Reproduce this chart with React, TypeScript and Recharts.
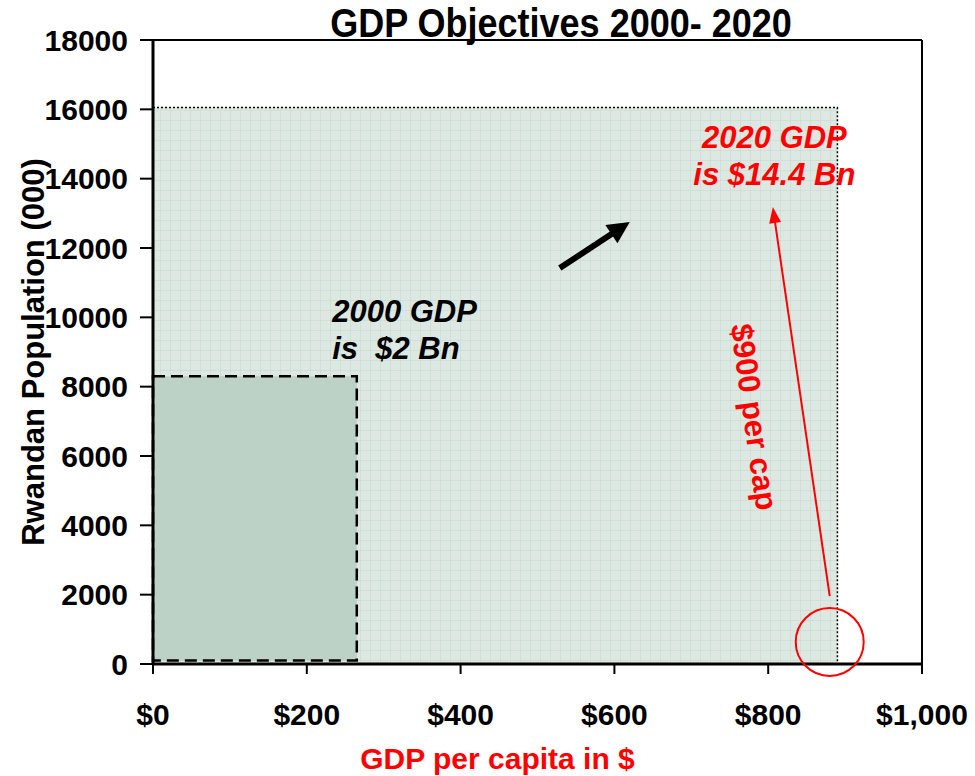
import React from 'react';
import {
  ScatterChart,
  Scatter,
  XAxis,
  YAxis,
  ReferenceArea,
  ReferenceLine,
  ReferenceDot,
} from 'recharts';

// GDP per capita ($) x population (000): the area is total GDP
const xTicks = [0, 200, 400, 600, 800, 1000];
const yTicks = [0, 2000, 4000, 6000, 8000, 10000, 12000, 14000, 16000, 18000];

// 2000 and 2020 rectangles: [perCapita, population]
const gdp2000 = { x1: 0, x2: 265, y1: 100, y2: 8300 };
const gdp2020 = { x1: 0, x2: 890, y1: 0, y2: 16050 };

// corner points of the two rectangles (the only series)
const corners = [
  { x: gdp2000.x2, y: gdp2000.y2 },
  { x: gdp2020.x2, y: gdp2020.y2 },
];

// annotation arrows, in data units
const growthArrow = [{ x: 529, y: 11420 }, { x: 620, y: 12750 }];
const perCapArrow = [{ x: 880, y: 1960 }, { x: 806, y: 13180 }];
const perCapCircle = { x: 880, y: 635 };

const notes = [
  { x: 233, y: 9860, lines: ['2000 GDP', 'is  $2 Bn'], color: '#000', anchor: 'start', angle: 0 },
  { x: 808, y: 14880, lines: ['2020 GDP', 'is $14.4 Bn'], color: '#ff0000', anchor: 'middle', angle: 0 },
  { x: 782, y: 7124, lines: ['$900 per cap'], color: '#ff0000', anchor: 'middle', angle: 82 },
];

const font = '"Liberation Sans", Arial, sans-serif';

const arrowShape = (color: string, width: number, headLen: number, headW: number) => (p: any) => {
  const { x1, y1, x2, y2 } = p;
  const dx = x2 - x1;
  const dy = y2 - y1;
  const len = Math.sqrt(dx * dx + dy * dy) || 1;
  const ux = dx / len;
  const uy = dy / len;
  const bx = x2 - ux * headLen;
  const by = y2 - uy * headLen;
  const head = `${x2},${y2} ${bx - uy * headW},${by + ux * headW} ${bx + uy * headW},${by - ux * headW}`;
  return (
    <g>
      <line x1={x1} y1={y1} x2={bx + ux * 2} y2={by + uy * 2} stroke={color} strokeWidth={width} />
      <polygon points={head} fill={color} />
    </g>
  );
};

const noteShape = (n: (typeof notes)[number]) => (p: any) => (
  <text
    x={p.cx}
    y={p.cy}
    fill={n.color}
    fontSize={31}
    fontWeight="bold"
    fontStyle={n.angle ? 'normal' : 'italic'}
    textAnchor={n.anchor}
    dominantBaseline={n.angle ? 'central' : 'auto'}
    transform={n.angle ? `rotate(${n.angle} ${p.cx} ${p.cy})` : undefined}
    fontFamily={font}
  >
    {n.lines.map((l, i) => (
      <tspan key={l} x={p.cx} dy={i === 0 ? 0 : 37} style={{ whiteSpace: 'pre' }}>
        {l}
      </tspan>
    ))}
  </text>
);

const App: React.FC = () => {
  return (
    <div style={{ position: 'absolute', left: 0, top: 0, width: 975, height: 776, fontFamily: font, background: '#fff' }}>
      <svg width={0} height={0} style={{ position: 'absolute' }}>
        <defs>
          <pattern id="gdpGrid" width={10} height={10} patternUnits="userSpaceOnUse">
            <rect width={10} height={10} fill="#dde8e2" />
            <path d="M10 0 L0 0 L0 10" fill="none" stroke="#c3d6cc" strokeWidth={1} />
          </pattern>
        </defs>
      </svg>
      <div
        style={{
          position: 'absolute',
          left: 561,
          top: 3,
          transform: 'translateX(-50%) scaleX(0.9)',
          fontSize: 40,
          fontWeight: 'bold',
          lineHeight: 1,
          whiteSpace: 'nowrap',
          color: '#000',
          zIndex: 2,
        }}
      >
        GDP Objectives 2000- 2020
      </div>
      <ScatterChart width={975} height={776} margin={{ top: 40, right: 53, bottom: 0, left: 0 }}>
        <XAxis
          type="number"
          dataKey="x"
          domain={[0, 1000]}
          ticks={xTicks}
          allowDataOverflow
          tickFormatter={(v: number) => '$' + v.toLocaleString('en-US')}
          height={112}
          tickSize={10}
          tickMargin={30}
          axisLine={{ stroke: '#000', strokeWidth: 3 }}
          tickLine={{ stroke: '#000', strokeWidth: 2 }}
          tick={{ fill: '#000', fontSize: 30, fontWeight: 'bold' }}
          label={{
            content: (props: any) => {
              const vb = props.viewBox;
              return (
                <text x={vb.x + vb.width / 2 - 40} y={vb.y + 105} textAnchor="middle" fill="#ff0000" fontSize={30} fontWeight="bold" fontFamily={font}>
                  GDP per capita in $
                </text>
              );
            },
          }}
        />
        <YAxis
          type="number"
          dataKey="y"
          domain={[0, 18000]}
          ticks={yTicks}
          allowDataOverflow
          width={153}
          tickSize={13}
          tickMargin={12}
          axisLine={{ stroke: '#000', strokeWidth: 3 }}
          tickLine={{ stroke: '#000', strokeWidth: 2 }}
          tick={{ fill: '#000', fontSize: 30, fontWeight: 'bold' }}
          label={{
            content: (props: any) => {
              const vb = props.viewBox;
              const cy = vb.y + vb.height / 2;
              return (
                <text x={44} y={cy} transform={`rotate(-90 44 ${cy})`} textAnchor="middle" fill="#000" fontSize={31} fontWeight="bold" fontFamily={font}>
                  Rwandan Population (000)
                </text>
              );
            },
          }}
        />
        <ReferenceArea
          {...gdp2020}
          fill="url(#gdpGrid)"
          fillOpacity={1}
          stroke="#000"
          strokeWidth={1.5}
          strokeDasharray="2 2"
        />
        <ReferenceArea
          {...gdp2000}
          fill="#bcd2c6"
          fillOpacity={1}
          stroke="#000"
          strokeWidth={2.5}
          strokeDasharray="12 6"
        />
        <ReferenceLine y={18000} stroke="#000" strokeWidth={2} />
        <ReferenceLine x={1000} stroke="#000" strokeWidth={2} />
        <ReferenceLine segment={growthArrow} shape={arrowShape('#000', 6, 22, 11)} />
        <ReferenceLine segment={perCapArrow} shape={arrowShape('#ff0000', 2, 16, 6)} />
        <ReferenceDot {...perCapCircle} r={34} fill="none" stroke="#ff0000" strokeWidth={2} />
        {notes.map((n) => (
          <ReferenceDot key={n.lines[0]} x={n.x} y={n.y} r={0} shape={noteShape(n)} />
        ))}
        <Scatter data={corners} isAnimationActive={false} shape={() => <g />} />
      </ScatterChart>
    </div>
  );
};

export default App;
